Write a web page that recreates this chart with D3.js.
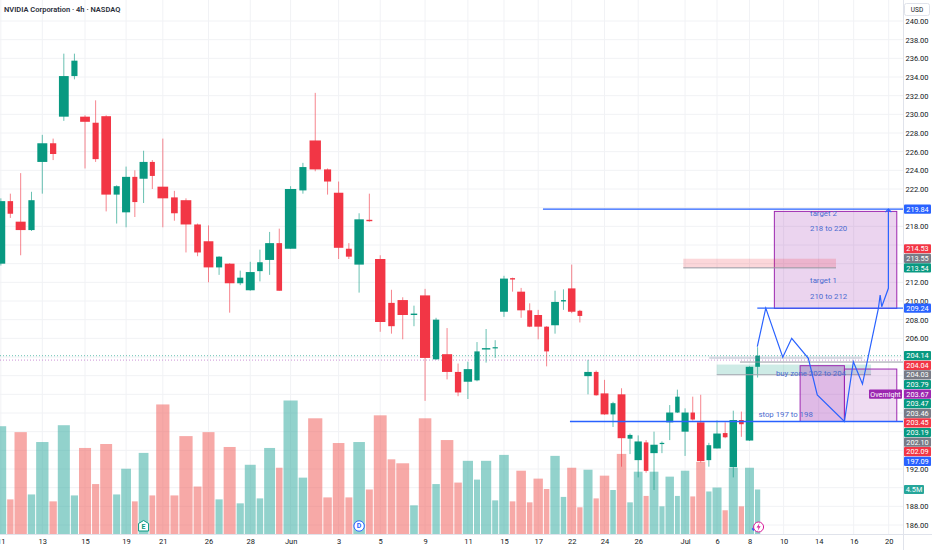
<!DOCTYPE html>
<html>
<head>
<meta charset="utf-8">
<script src="https://cdn.jsdelivr.net/npm/d3@7"></script>
<style>
  html, body { margin: 0; padding: 0; background: #fff; }
  svg { display: block; font-family: Roboto, "Noto Sans", sans-serif; }
</style>
</head>
<body>
<svg id="chart" width="932" height="550"></svg>
<script>
// 4h bars, two per session (09:30-13:30, 13:30-16:00)
const opens  = [214.0,220.7,218.5,217.6,224.9,226.9,229.75,234.1,229.75,229.1,
                229.8,221.4,219.5,223.3,223.1,224.9,222.25,221.1,220.8,218.2,
                216.4,213.6,214.0,211.9,211.15,213.2,214.4,216.2,215.6,221.85,
                227.2,224.1,221.6,215.6,213.9,218.7,214.5,209.8,210.1,208.5,
                210.6,203.75,204.3,202.4,201.35,201.5,204.8,204.95,208.85,212.45,
                211.0,209.0,208.5,207.25,207.4,209.95,211.35,208.95,201.95,202.4,
                200.1,197.85,200.0,195.25,192.95,194.85,193.7,194.7,197.0,198.05,
                196.0,198.05,197.0,192.95,194.2,195.85,192.2,197.25,195.05,202.95];
const highs  = [221.0,221.5,223.7,221.7,227.8,227.4,236.5,236.5,229.9,231.5,
                229.9,222.4,224.4,224.0,226.1,225.1,227.4,221.8,221.0,218.3,
                218.1,214.8,214.05,213.25,214.2,215.5,217.4,217.75,222.3,224.8,
                232.3,224.2,222.8,216.2,219.4,221.5,214.9,211.2,210.4,209.5,
                211.3,208.2,207.1,203.3,203.5,205.6,207.0,205.8,212.7,212.5,
                211.4,209.75,209.05,207.3,211.1,211.25,213.9,209.05,203.7,202.55,
                201.55,199.2,200.65,195.8,195.6,195.1,196.0,194.95,198.85,200.5,
                198.5,199.75,199.95,194.8,197.2,197.0,198.25,198.15,203.0,205.05];
const lows   = [213.8,218.9,214.9,217.5,221.5,225.1,229.3,233.75,224.2,224.9,
                219.6,218.3,217.9,219.0,220.5,222.0,217.9,218.6,215.2,214.8,
                212.0,212.8,208.75,211.7,211.1,212.1,212.8,211.1,215.6,221.5,
                223.9,221.4,214.5,214.5,210.9,218.5,206.7,206.5,205.9,207.3,
                199.3,203.7,201.6,199.8,199.5,201.4,203.4,203.9,208.3,211.0,
                208.2,207.2,205.9,203.0,206.5,209.05,208.7,207.7,200.0,199.85,
                197.8,196.5,192.25,193.6,191.1,191.6,189.75,193.7,195.1,198.0,
                193.4,197.2,192.7,192.25,194.2,195.3,191.1,195.45,195.0,201.8];
const closes = [220.7,219.35,217.6,220.8,226.9,225.75,234.1,235.75,229.2,225.2,
                221.4,222.3,223.3,220.6,224.9,223.4,221.0,219.4,218.2,215.2,
                213.6,214.75,211.9,212.5,213.1,214.15,216.2,211.1,222.0,224.35,
                224.1,222.8,215.7,214.75,218.75,218.55,207.75,207.3,208.5,208.65,
                203.9,208.0,202.4,200.2,202.7,204.6,204.95,205.05,212.4,212.3,
                209.0,207.25,207.25,204.6,209.9,210.1,208.85,208.4,202.4,199.9,
                197.85,199.05,195.3,195.65,194.95,191.8,194.6,194.8,198.05,199.75,
                198.05,197.3,192.85,194.55,195.8,195.4,197.25,196.8,202.95,204.14];
// volume in millions
const volumes = [10.9,3.5,10.3,4.0,9.3,3.3,11.0,3.9,8.7,5.05,
                 9.1,4.0,6.6,3.3,8.2,3.9,13.1,3.9,9.9,4.8,
                 10.3,3.5,8.8,3.1,7.0,3.6,8.7,6.7,13.5,5.7,
                 11.7,3.7,9.2,3.7,9.3,4.5,12.0,7.55,7.15,2.9,
                 11.7,5.05,9.5,5.2,7.4,5.5,7.4,3.4,8.0,3.3,
                 6.4,3.2,5.6,4.55,7.9,3.75,6.7,2.7,6.5,3.6,
                 5.9,4.45,8.1,3.2,6.3,3.85,6.3,2.8,5.8,3.85,
                 6.4,3.8,7.3,4.3,4.7,2.4,6.7,2.8,6.7,4.5];

// time axis: bar index of each label
const tickBars   = [0,4,8,12,16,20,24,28,32,36,40,44,48,52,56,60,64,70,74,78,82,86,90,94];
const tickLabels = ['11','13','15','19','21','26','28','Jun','3','5','9','11',
                    '15','17','22','24','26','Jul','6','8','10','14','16','20'];
const priceTicks = d3.range(186, 241, 2);

// price scale labels
const axisLabelTexts  = ['219.84','214.53','213.55','213.54','209.24','204.14','204.04','204.03',
                         '203.79','203.67','203.47','203.46','203.45','203.19','202.10','202.09','197.09'];
const axisLabelColors = ['#2962ff','#f23645','#787b86','#089981','#2962ff','#089981','#f23645','#787b86',
                         '#089981','#9c27b0','#089981','#787b86','#f23645','#089981','#787b86','#f23645','#2962ff'];
const pinnedLabels = ['213.54', '204.14'];
const lastVolumeText = '4.5M';

// drawing levels
const targetLevel = 219.84, target1Level = 209.24, stopLevel = 197.09;
const lastPrice = 204.14, overnightPrice = 203.67;
const eventBars = { E: 14, D: 34 };
// projected path: [session-day, price]
const projection = [[39.79,205.1],[40.29,209.24],[41.26,203.97],[41.77,206.0],[42.72,203.86],
                    [43.23,199.93],[44.78,197.09],[45.29,203.5],[45.81,201.1],[46.72,209.22],
                    [46.82,210.64],[46.91,209.39],[47.29,211.36],[47.29,219.84]];

// ---------- layout ----------
const W = 932, H = 550, plotW = 903, plotH = 534;
const SESSION = 6.5, FIRST = 4;
const barStart = i => Math.floor(i / 2) + (i % 2 ? FIRST / SESSION : 0);
const barEnd   = i => Math.floor(i / 2) + (i % 2 ? 1 : FIRST / SESSION);
const barMid   = i => (barStart(i) + barEnd(i)) / 2;

const x = d3.scaleLinear()
  .domain([0,1,3,5,6,8,10,12,14,16,18,20,22,24,26,28,30,32,34,36,38,40,47])
  .range([-5,14,57.3,99.7,120.7,155.7,202,244.3,283,332.3,373.3,418.3,462.3,498.7,533,566.7,599.3,633.3,665,695.7,728.3,760.7,883.3]);
const y = d3.scaleLinear().domain([240, 186]).range([21, 525]);
const yv = d3.scaleLinear().domain([0, 4.5]).range([plotH, 489.5]);

const UP = '#089981', DOWN = '#f23645';
const bars = opens.map((o, i) => ({ i, o, h: highs[i], l: lows[i], c: closes[i], v: volumes[i] }));

const svg = d3.select('#chart');
svg.append('rect').attr('width', W).attr('height', H).attr('fill', '#fff');

svg.append('defs').append('clipPath').attr('id', 'plot')
   .append('rect').attr('width', plotW).attr('height', plotH);

const plot = svg.append('g').attr('clip-path', 'url(#plot)');

// grid
plot.append('g').selectAll('line').data(priceTicks).join('line')
    .attr('x1', 0).attr('x2', plotW)
    .attr('y1', d => y(d)).attr('y2', d => y(d))
    .attr('stroke', '#f1f2f5').attr('stroke-width', 1);
plot.append('g').selectAll('line').data(tickBars).join('line')
    .attr('x1', d => x(barMid(d))).attr('x2', d => x(barMid(d)))
    .attr('y1', 0).attr('y2', plotH)
    .attr('stroke', '#f1f2f5').attr('stroke-width', 1);

// volume
plot.append('g').selectAll('rect').data(bars).join('rect')
    .attr('x', d => x(barStart(d.i)) + 0.5)
    .attr('width', d => Math.max(1, x(barEnd(d.i)) - x(barStart(d.i)) - 1))
    .attr('y', d => yv(d.v))
    .attr('height', d => plotH - yv(d.v))
    .attr('fill', d => d.c >= d.o ? 'rgba(38,166,154,0.5)' : 'rgba(239,83,80,0.5)');

// price lines (dotted)
plot.append('line').attr('x1', 0).attr('x2', plotW)
    .attr('y1', y(lastPrice)).attr('y2', y(lastPrice))
    .attr('stroke', UP).attr('stroke-dasharray', '1,2').attr('opacity', 0.6);
plot.append('line').attr('x1', 0).attr('x2', plotW)
    .attr('y1', y(overnightPrice)).attr('y2', y(overnightPrice))
    .attr('stroke', '#9c27b0').attr('stroke-dasharray', '1,2').attr('opacity', 0.5);

// candles
const candles = plot.append('g').selectAll('g').data(bars).join('g');
candles.append('line')
    .attr('x1', d => x(barMid(d.i))).attr('x2', d => x(barMid(d.i)))
    .attr('y1', d => y(d.h)).attr('y2', d => y(d.l))
    .attr('stroke', d => d.c >= d.o ? UP : DOWN)
    .attr('stroke-width', 1).attr('opacity', 0.6);
candles.append('rect')
    .attr('x', d => {
      const w = (x(barEnd(d.i)) - x(barStart(d.i))) * 0.75;
      return x(barMid(d.i)) - w / 2;
    })
    .attr('width', d => (x(barEnd(d.i)) - x(barStart(d.i))) * 0.75)
    .attr('y', d => y(Math.max(d.o, d.c)))
    .attr('height', d => Math.max(1.2, Math.abs(y(d.o) - y(d.c))))
    .attr('fill', d => d.c >= d.o ? UP : DOWN);

// ---------- drawings ----------
const dr = plot.append('g');
function zone(d0, d1, p0, p1, fill, stroke) {
  dr.append('rect')
    .attr('x', x(d0)).attr('width', x(d1) - x(d0))
    .attr('y', y(p0)).attr('height', y(p1) - y(p0))
    .attr('fill', fill).attr('stroke', stroke || 'none').attr('stroke-width', 1);
}
function hline(d0, d1, p, color, width) {
  dr.append('line').attr('x1', x(d0)).attr('x2', d1 == null ? plotW : x(d1))
    .attr('y1', y(p)).attr('y2', y(p))
    .attr('stroke', color).attr('stroke-width', width || 1);
}
function label(d, p, text) {
  dr.append('text').attr('x', x(d)).attr('y', y(p)).attr('dy', '0.35em')
    .attr('fill', '#4b6bd0').attr('font-size', 7.8).text(text);
}

// target zone
zone(40.78, 47.77, 219.6, 209.2, 'rgba(156,39,176,0.2)', '#9c27b0');
// resistance (red) band
zone(35.19, 44.3, 214.53, 213.55, 'rgba(242,54,69,0.2)');
hline(35.19, 44.3, 213.55, '#9598a1', 1);
// grey band at price
zone(36.83, 45.81, 204.04, 203.79, 'rgba(120,130,160,0.28)');
hline(38.72, null, 203.46, '#9598a1', 1);
// buy zone
zone(37.29, 46.3, 203.19, 202.10, 'rgba(8,153,129,0.2)');
hline(37.29, 46.3, 202.10, '#a3a6af', 1);
// entry boxes
zone(42.25, 44.78, 203.07, stopLevel, 'rgba(156,39,176,0.32)', '#9c27b0');
zone(44.78, 47.77, 202.71, stopLevel, 'rgba(156,39,176,0.16)', '#9c27b0');

// levels
hline(26.59, null, targetLevel, '#2962ff', 1.3);
hline(39.79, null, target1Level, '#2962ff', 1.3);
hline(28.2, null, stopLevel, '#2962ff', 1.3);

// projected path
dr.append('path')
  .attr('d', d3.line().x(d => x(d[0])).y(d => y(d[1]))(projection))
  .attr('fill', 'none').attr('stroke', '#2962ff').attr('stroke-width', 1.2);
const tip = projection[projection.length - 1];
dr.append('path')
  .attr('d', `M${x(tip[0]) - 3},${y(tip[1]) + 3}L${x(tip[0])},${y(tip[1])}L${x(tip[0]) + 3},${y(tip[1]) + 3}`)
  .attr('fill', 'none').attr('stroke', '#2962ff').attr('stroke-width', 1.2);

label(42.82, 219.43, 'target 2');
label(42.82, 217.8, '218 to 220');
label(42.82, 212.18, 'target 1');
label(42.82, 210.5, '210 to 212');
label(40.87, 202.25, 'buy zone 202 to 204');
label(39.86, 197.86, 'stop 197 to 198');

// event markers
const ex = x(barMid(eventBars.E)), dx = x(barMid(eventBars.D));
plot.append('path')
    .attr('d', `M${ex - 5},523.5L${ex},520.5L${ex + 5},523.5L${ex + 5},531L${ex - 5},531Z`)
    .attr('fill', '#fff').attr('stroke', UP).attr('stroke-width', 1);
plot.append('text').attr('x', ex).attr('y', 526.5).attr('dy', '0.35em').attr('text-anchor', 'middle')
    .attr('font-size', 7).attr('font-weight', 700).attr('fill', UP).text('E');
plot.append('circle').attr('cx', dx).attr('cy', 526).attr('r', 5.2)
    .attr('fill', '#fff').attr('stroke', '#2962ff').attr('stroke-width', 1);
plot.append('text').attr('x', dx).attr('y', 526).attr('dy', '0.35em').attr('text-anchor', 'middle')
    .attr('font-size', 7).attr('font-weight', 700).attr('fill', '#2962ff').text('D');
const lx = x(barMid(79)) + 1;
plot.append('path').attr('d', `M${lx - 7},529L${lx - 5},527L${lx - 3},529L${lx - 5},531Z`).attr('fill', '#2962ff');
plot.append('circle').attr('cx', lx).attr('cy', 527).attr('r', 5)
    .attr('fill', '#fff').attr('stroke', '#d81b9a').attr('stroke-width', 1);
plot.append('path').attr('d', `M${lx + 1},523L${lx - 2},527.5L${lx},527.5L${lx - 1},531L${lx + 2},526.3L${lx},526.3Z`)
    .attr('fill', '#d81b9a');

// ---------- price-scale tags (stacked so they do not overlap) ----------
const LH = 9.6;
const tags = axisLabelTexts.map((t, i) => ({ t, fill: axisLabelColors[i], y: y(+t), pin: pinnedLabels.includes(t) }))
  .sort((a, b) => a.y - b.y);
for (let i = 1; i < tags.length; i++)
  if (!tags[i].pin && tags[i].y < tags[i - 1].y + LH) tags[i].y = tags[i - 1].y + LH;
for (let i = tags.length - 2; i >= 0; i--)
  if (!tags[i].pin && tags[i].y > tags[i + 1].y - LH) tags[i].y = tags[i + 1].y - LH;
const volTagY = yv(volumes[volumes.length - 1]);

// tick labels hidden under a tag are left out
const covered = p => tags.some(t => Math.abs(t.y - y(p)) < 5.5) || Math.abs(volTagY - y(p)) < 5.5;

// ---------- axes ----------
svg.append('line').attr('x1', plotW + 0.5).attr('x2', plotW + 0.5).attr('y1', 0).attr('y2', H)
   .attr('stroke', '#e0e3eb');
svg.append('line').attr('x1', 0).attr('x2', W).attr('y1', plotH + 0.5).attr('y2', plotH + 0.5)
   .attr('stroke', '#e0e3eb');

const yAxis = svg.append('g').attr('transform', `translate(${plotW},0)`)
   .call(d3.axisRight(y).tickValues(priceTicks.filter(p => !covered(p)))
   .tickFormat(d3.format('.2f')).tickSize(0));
yAxis.select('.domain').remove();
yAxis.selectAll('text').attr('x', 14).attr('text-anchor', 'middle')
     .attr('fill', '#131722').attr('font-size', 7.5).attr('font-family', 'Roboto, sans-serif');

const xAxis = svg.append('g').attr('transform', `translate(0,${plotH})`)
   .call(d3.axisBottom(x).tickValues(tickBars.map(barMid)).tickFormat((d, i) => tickLabels[i])
   .tickSize(0).tickPadding(5));
xAxis.select('.domain').remove();
xAxis.selectAll('text').attr('fill', '#131722').attr('font-size', 7.5)
     .attr('font-family', 'Roboto, sans-serif');

const tagG = svg.append('g').selectAll('g').data(tags).join('g')
   .attr('transform', d => `translate(${plotW + 1},${d.y})`);
tagG.append('rect').attr('x', 0).attr('y', -4.6).attr('width', 27).attr('height', 9.2)
    .attr('rx', 1).attr('fill', d => d.fill);
tagG.append('text').attr('x', 13.5).attr('dy', '0.35em').attr('text-anchor', 'middle')
    .attr('fill', '#fff').attr('font-size', 7.3).text(d => d.t);

const ov = tags.find(d => +d.t === overnightPrice);
const ovG = svg.append('g').attr('transform', `translate(${plotW - 34},${ov.y})`);
ovG.append('rect').attr('x', 0).attr('y', -4.6).attr('width', 33).attr('height', 9.2)
   .attr('rx', 1).attr('fill', '#9c27b0');
ovG.append('text').attr('x', 16.5).attr('dy', '0.35em').attr('text-anchor', 'middle')
   .attr('fill', '#fff').attr('font-size', 7.1).text('Overnight');

const vG = svg.append('g').attr('transform', `translate(${plotW + 1},${volTagY})`);
vG.append('rect').attr('x', 0).attr('y', -4.6).attr('width', 20).attr('height', 9.2)
  .attr('rx', 1).attr('fill', '#26a69a');
vG.append('text').attr('x', 10).attr('dy', '0.35em').attr('text-anchor', 'middle')
  .attr('fill', '#fff').attr('font-size', 7.3).text(lastVolumeText);

// currency box
svg.append('rect').attr('x', 904.5).attr('y', 3.5).attr('width', 25).attr('height', 12)
   .attr('rx', 2).attr('fill', '#fff').attr('stroke', '#e0e3eb');
svg.append('text').attr('x', 917).attr('y', 9.5).attr('dy', '0.35em').attr('text-anchor', 'middle')
   .attr('font-size', 6.5).attr('fill', '#131722').text('USD');

// title
svg.append('text').attr('x', 4).attr('y', 9.5).attr('dy', '0.35em')
   .attr('font-size', 7.5).attr('font-weight', 600).attr('fill', '#2a2e39')
   .text('NVIDIA Corporation · 4h · NASDAQ');
</script>
</body>
</html>
